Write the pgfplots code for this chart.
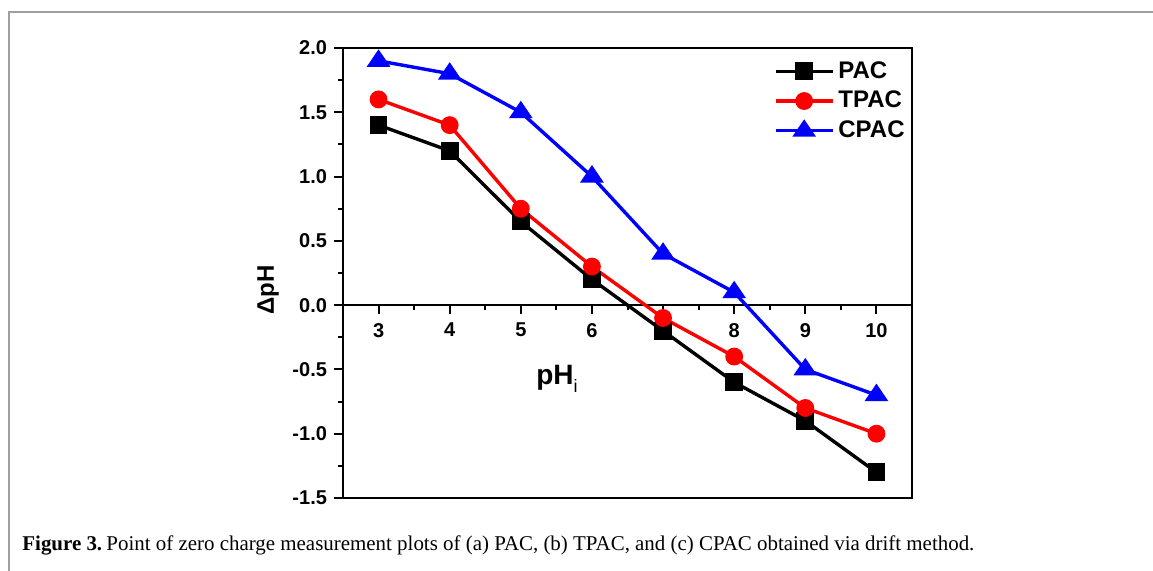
\documentclass[border=0pt]{standalone}
\usepackage{fontspec}
\usepackage{graphicx}
\usepackage{pgfplots}
\pgfplotsset{compat=1.18}
\setmainfont{Liberation Sans}
\newfontfamily\capfont[FakeStretch=0.82]{Liberation Serif}

\begin{document}
\begin{tikzpicture}
% page frame, in image pixels (1px = 0.5pt)
\begin{scope}[x=0.5pt,y=0.5pt]
\path[use as bounding box] (0,0) rectangle (1153,571);
\draw[gray!75, line width=1.4pt] (9,0) -- (9,559) -- (1153,559);
\node[rotate=90, font=\bfseries\fontsize{12}{14}\selectfont] at (268,281) {ΔpH};
\node[font=\fontsize{14}{16}\selectfont] at (557,192) {\textbf{pH}\raisebox{-0.5ex}{\fontsize{9}{10}\selectfont i}};
\node[anchor=base west, inner sep=0pt] at (22,20)
  {\resizebox{476pt}{\height}{\capfont\fontsize{10.5}{12}\selectfont\textbf{Figure 3.}\,Point of zero charge measurement plots of (a) PAC, (b) TPAC, and (c) CPAC obtained via drift method.}};
\end{scope}

% x axis line through zero
\begin{axis}[
  at={(171.5pt,36.5pt)}, anchor=south west,
  scale only axis, width=284.5pt, height=225pt,
  xmin=2.5, xmax=10.5, ymin=-1.5, ymax=2.0,
  axis x line=middle, axis y line=none,
  axis line style={-, line width=1.3pt},
  xtick={3,4,...,10}, xticklabels={3,4,5,6,,8,9,10},
  minor x tick num=1,
  tick align=outside, major tick length=4.5pt, minor tick length=2.5pt,
  every tick/.style={black, line width=1pt},
  xticklabel style={font=\bfseries\fontsize{10}{12}\selectfont, yshift=-1pt},
]
\addplot[draw=none] coordinates {(3,0)};
\end{axis}

\begin{axis}[
  at={(171.5pt,36.5pt)}, anchor=south west,
  scale only axis, width=284.5pt, height=225pt,
  xmin=2.5, xmax=10.5, ymin=-1.5, ymax=2.0,
  axis line style={line width=1.3pt},
  xtick=\empty,
  ytick={-1.5,-1,...,2}, minor y tick num=1, ytick pos=left,
  tick align=outside, major tick length=4.5pt, minor tick length=2.5pt,
  every tick/.style={black, line width=1pt},
  yticklabel style={font=\bfseries\fontsize{10}{12}\selectfont,
    /pgf/number format/.cd, fixed, fixed zerofill, precision=1, assume math mode=true},
  legend style={draw=none, fill=none, at={(1,1)}, anchor=north east,
    xshift=1.5pt, yshift=-2.5pt, row sep=1pt,
    font=\bfseries\fontsize{12}{14}\selectfont},
  legend cell align=left,
  legend image code/.code={\draw[mark repeat=2, mark phase=2, #1] plot coordinates {(0pt,0pt) (14.25pt,0pt) (28.5pt,0pt)};},
]
\addplot[black, line width=1.7pt, mark=square*, mark size=3.6pt] coordinates {
  (3,1.4) (4,1.2) (5,0.65) (6,0.2) (7,-0.2) (8,-0.6) (9,-0.9) (10,-1.3)
};
\addlegendentry{PAC}
\addplot[red, line width=1.7pt, mark=*, mark size=3.6pt] coordinates {
  (3,1.6) (4,1.4) (5,0.75) (6,0.3) (7,-0.1) (8,-0.4) (9,-0.8) (10,-1.0)
};
\addlegendentry{TPAC}
\addplot[blue, line width=1.7pt, mark=triangle*, mark size=5pt, mark options={yscale=0.85}] coordinates {
  (3,1.9) (4,1.8) (5,1.5) (6,1.0) (7,0.4) (8,0.1) (9,-0.5) (10,-0.7)
};
\addlegendentry{CPAC}
\end{axis}
\end{tikzpicture}
\end{document}
